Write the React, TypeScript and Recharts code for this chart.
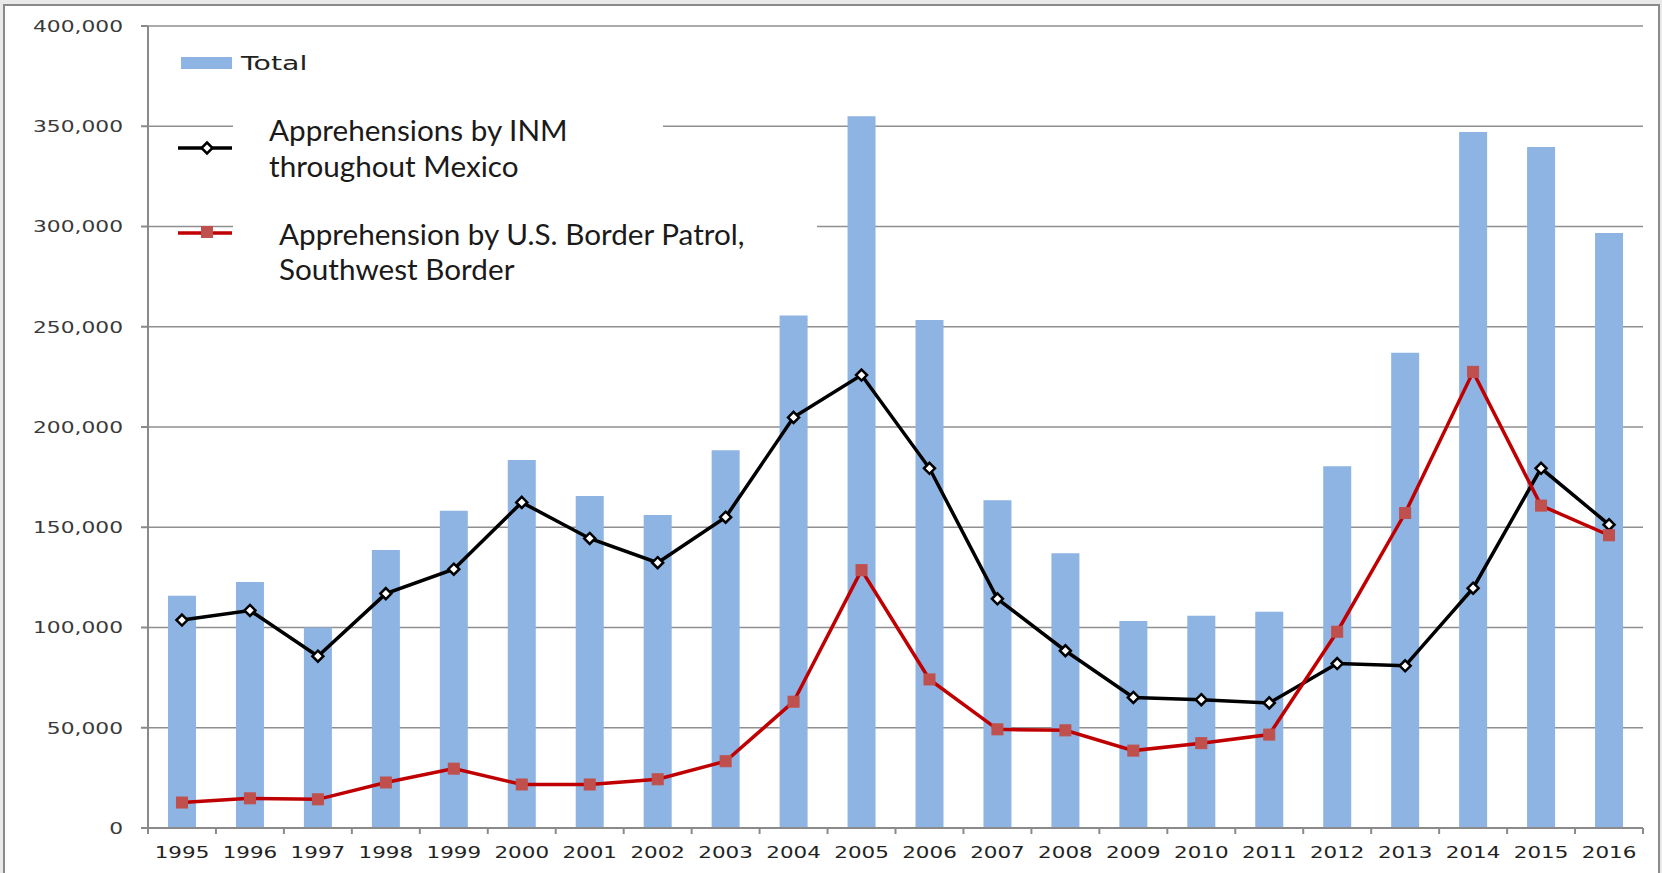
import React from "react";
import {
  ComposedChart,
  Bar,
  Line,
  XAxis,
  YAxis,
  CartesianGrid,
  Legend,
} from "recharts";

const years = [
  "1995", "1996", "1997", "1998", "1999", "2000", "2001", "2002", "2003", "2004", "2005",
  "2006", "2007", "2008", "2009", "2010", "2011", "2012", "2013", "2014", "2015", "2016",
];

// Total apprehensions (bars)
const totalValues = [
  115800, 122700, 100000, 138600, 158200, 183600, 165600, 156100, 188400, 255600, 355000,
  253400, 163500, 137000, 103200, 105800, 107900, 180400, 237000, 347100, 339700, 296800,
];

// Apprehensions by INM throughout Mexico
const inmValues = [
  103700, 108500, 85700, 116900, 129100, 162400, 144400, 132300, 155000, 204800, 225900,
  179400, 114300, 88400, 65100, 64000, 62400, 82000, 80900, 119600, 179400, 151300,
];

// Apprehension by U.S. Border Patrol, Southwest Border
const borderPatrolValues = [
  12700, 14800, 14300, 22700, 29600, 21700, 21700, 24300, 33300, 63000, 128600,
  74100, 49200, 48700, 38600, 42300, 46600, 97900, 157100, 227500, 160800, 146000,
];

const yTicks = [0, 50000, 100000, 150000, 200000, 250000, 300000, 350000, 400000];

const data = years.map((year, i) => ({
  year,
  total: totalValues[i],
  inm: inmValues[i],
  usbp: borderPatrolValues[i],
}));

const W = 1662;
const H = 873;
const PLOT_LEFT = 148;
const PLOT_RIGHT = 1643;
const PLOT_TOP = 26;
const PLOT_BOTTOM = 828;
const BAND = (PLOT_RIGHT - PLOT_LEFT) / years.length;
const X_TICK_MARGIN = 18;

const BAR_COLOR = "#8db4e2";
const AXIS_COLOR = "#8a8a8a";
const RED = "#c00000";
const RED_MARK = "#c0504d";
const TICK_FONT = "'DejaVu Sans', Verdana, sans-serif";
const LEGEND_FONT = "Lato, 'Open Sans', sans-serif";

function YearTick(props: any) {
  const { x, y, payload, index } = props;
  const axisY = y - X_TICK_MARGIN;
  const left = x - BAND / 2;
  const right = x + BAND / 2;
  return (
    <g>
      <line x1={left} x2={left} y1={axisY} y2={axisY + 6} stroke={AXIS_COLOR} strokeWidth={2} />
      {index === years.length - 1 && (
        <line x1={right} x2={right} y1={axisY} y2={axisY + 6} stroke={AXIS_COLOR} strokeWidth={2} />
      )}
      <text
        transform={`translate(${x},${y}) scale(1.3,1)`}
        textAnchor="middle"
        dy="0.71em"
        fontFamily={TICK_FONT}
        fontSize={16.5}
        fill="#222"
      >
        {payload.value}
      </text>
    </g>
  );
}

function ValueTick(props: any) {
  const { x, y, payload } = props;
  return (
    <text
      transform={`translate(${x},${y}) scale(1.32,1)`}
      textAnchor="end"
      dy="0.355em"
      fontFamily={TICK_FONT}
      fontSize={16.5}
      fill="#3a3a3a"
    >
      {Number(payload.value).toLocaleString("en-US")}
    </text>
  );
}

function Diamond(props: any) {
  const { cx, cy, index } = props;
  const r = 5.5;
  return (
    <polygon
      key={`d-${index}`}
      points={`${cx},${cy - r} ${cx + r},${cy} ${cx},${cy + r} ${cx - r},${cy}`}
      fill="#fff"
      stroke="#000"
      strokeWidth={2.5}
    />
  );
}

function Square(props: any) {
  const { cx, cy, index } = props;
  const s = 11;
  return (
    <rect
      key={`s-${index}`}
      x={cx - s / 2}
      y={cy - s / 2}
      width={s}
      height={s}
      fill={RED_MARK}
      stroke={RED_MARK}
      strokeWidth={1}
    />
  );
}

function LegendText({ x, y, children }: { x: number; y: number; children: React.ReactNode }) {
  return (
    <text
      transform={`translate(${x},${y}) scale(1.06,1)`}
      dy="0.35em"
      fontFamily={LEGEND_FONT}
      fontSize={28}
      fill="#1a1a1a"
    >
      {children}
    </text>
  );
}

function ChartLegend() {
  const lx1 = 178;
  const lx2 = 232;
  const mx = 207;
  return (
    <svg width={W} height={320} style={{ position: "absolute", left: 0, top: 0, pointerEvents: "none" }}>
      <rect x={181} y={57} width={51} height={12} fill={BAR_COLOR} />
      <text
        transform="translate(241,63) scale(1.42,1)"
        dy="0.355em"
        fontFamily={TICK_FONT}
        fontSize={20}
        fill="#222"
      >
        Total
      </text>

      <rect x={233} y={108} width={430} height={78} fill="#fff" />
      <line x1={lx1} x2={lx2} y1={148} y2={148} stroke="#000" strokeWidth={3.5} />
      <Diamond cx={mx} cy={148} index={0} />
      <LegendText x={269} y={131}>Apprehensions by INM</LegendText>
      <LegendText x={269} y={167}>throughout Mexico</LegendText>

      <rect x={233} y={203} width={584} height={85} fill="#fff" />
      <line x1={lx1} x2={lx2} y1={233} y2={233} stroke={RED} strokeWidth={3.5} />
      <Square cx={mx} cy={232} index={0} />
      <LegendText x={279} y={235}>Apprehension by U.S. Border Patrol,</LegendText>
      <LegendText x={279} y={270}>Southwest Border</LegendText>
    </svg>
  );
}

export default function App() {
  return (
    <div style={{ position: "absolute", left: 0, top: 0, width: W, height: H, background: "#e9e9e9", overflow: "hidden" }}>
      <div
        style={{
          position: "absolute",
          left: 3,
          top: 4,
          width: 1657,
          height: H + 10,
          border: `2px solid ${AXIS_COLOR}`,
          background: "#fff",
          boxSizing: "border-box",
        }}
      />
      <div style={{ position: "absolute", left: 0, top: 0 }}>
        <ComposedChart
          width={W}
          height={H}
          data={data}
          margin={{ top: PLOT_TOP, right: W - PLOT_RIGHT, bottom: 0, left: 0 }}
        >
          <CartesianGrid vertical={false} stroke="#8f8f8f" strokeWidth={1.5} />
          <XAxis
            dataKey="year"
            height={H - PLOT_BOTTOM}
            axisLine={{ stroke: AXIS_COLOR, strokeWidth: 2 }}
            tickLine={false}
            tickSize={0}
            tickMargin={X_TICK_MARGIN}
            tick={<YearTick />}
            interval={0}
          />
          <YAxis
            width={PLOT_LEFT}
            domain={[0, 400000]}
            ticks={yTicks}
            interval={0}
            axisLine={{ stroke: AXIS_COLOR, strokeWidth: 2 }}
            tickLine={{ stroke: AXIS_COLOR, strokeWidth: 2 }}
            tickSize={7}
            tickMargin={18}
            tick={<ValueTick />}
          />
          <Legend
            layout="horizontal"
            align="center"
            verticalAlign="middle"
            wrapperStyle={{ left: 0, top: 0, width: W, height: 320 }}
            content={() => <ChartLegend />}
          />
          <Bar dataKey="total" name="Total" fill={BAR_COLOR} barSize={28} isAnimationActive={false} />
          <Line
            dataKey="inm"
            name="Apprehensions by INM throughout Mexico"
            type="linear"
            stroke="#000"
            strokeWidth={3.5}
            dot={(p: any) => <Diamond {...p} />}
            activeDot={false}
            isAnimationActive={false}
          />
          <Line
            dataKey="usbp"
            name="Apprehension by U.S. Border Patrol, Southwest Border"
            type="linear"
            stroke={RED}
            strokeWidth={3.5}
            dot={(p: any) => <Square {...p} />}
            activeDot={false}
            isAnimationActive={false}
          />
        </ComposedChart>
      </div>
    </div>
  );
}
